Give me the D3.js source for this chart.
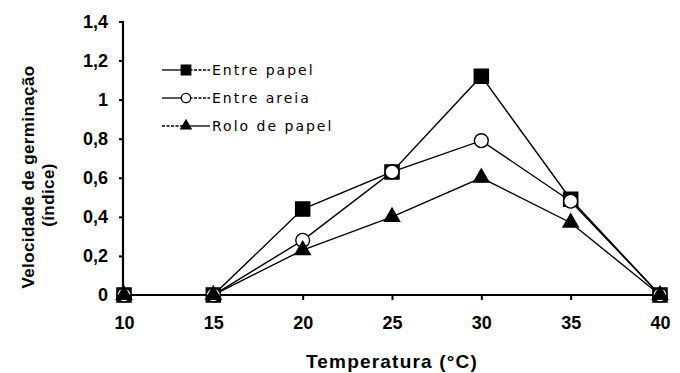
<!DOCTYPE html>
<html><head><meta charset="utf-8">
<script src="https://cdn.jsdelivr.net/npm/d3@7"></script>
<style>body{margin:0;background:#fff}svg{display:block}</style>
</head><body>
<svg id="c" width="680" height="373"></svg>
<script>
const temps = [10, 15, 20, 25, 30, 35, 40];
const entrePapel = [0, 0, 0.44, 0.63, 1.12, 0.49, 0];
const entreAreia = [0, 0, 0.28, 0.63, 0.79, 0.48, 0];
const roloPapel = [0, 0, 0.23, 0.40, 0.60, 0.37, 0];
const yTicks = [0, 0.2, 0.4, 0.6, 0.8, 1, 1.2, 1.4];
const seriesNames = ["Entre papel", "Entre areia", "Rolo de papel"];

const svg = d3.select("#c");
const x = d3.scaleLinear().domain([10, 40]).range([124, 660]);
const y = d3.scaleLinear().domain([0, 1.4]).range([295, 21.5]);
const fmt = d => String(d).replace(".", ",");

// axes
const yAx = svg.append("g").attr("transform", "translate(123,0)")
  .call(d3.axisLeft(y).tickValues(yTicks).tickFormat(fmt).tickSize(4).tickPadding(11));
const xAx = svg.append("g").attr("transform", "translate(0,295)")
  .call(d3.axisBottom(x).tickValues(temps).tickSize(5).tickPadding(16));
[yAx, xAx].forEach(g => {
  g.select(".domain").attr("stroke", "#000").attr("stroke-width", 2.2);
  g.selectAll(".tick line").attr("stroke", "#000").attr("stroke-width", 2);
  g.selectAll("text").attr("font-family", "Liberation Sans, Arial, sans-serif")
    .attr("font-weight", "bold").attr("font-size", 18).attr("fill", "#000");
});
yAx.select(".domain").attr("d", "M0,21V295");
xAx.select(".domain").attr("d", "M123,0H660");
xAx.selectAll(".tick text").attr("dy", "0.71em");

const series = [
  {name: seriesNames[0], vals: entrePapel, sym: d3.symbolSquare, size: 200, fill: "#000"},
  {name: seriesNames[1], vals: entreAreia, sym: d3.symbolCircle, size: 150, fill: "#fff"},
  {name: seriesNames[2], vals: roloPapel, sym: d3.symbolTriangle, size: 100, fill: "#000"}
];

const line = d3.line().x((d, i) => x(temps[i])).y(d => y(d));
series.forEach(s => {
  svg.append("path").attr("d", line(s.vals)).attr("fill", "none")
    .attr("stroke", "#000").attr("stroke-width", 1.4);
});
series.forEach(s => {
  svg.append("g").selectAll("path").data(s.vals).join("path")
    .attr("transform", (d, i) => `translate(${x(temps[i])},${y(d)})`)
    .attr("d", d3.symbol().type(s.sym).size(s.size))
    .attr("fill", s.fill).attr("stroke", "#000").attr("stroke-width", 1.4);
});

// legend
const legY = [70, 98, 126];
series.forEach((s, i) => {
  const g = svg.append("g").attr("transform", `translate(0,${legY[i]})`);
  const leftDash = i === 2 ? "3,1.5" : null, rightDash = i === 2 ? null : "3,1.5";
  g.append("line").attr("x1", 162).attr("x2", 185).attr("stroke", "#000")
    .attr("stroke-width", 1.3).attr("stroke-dasharray", leftDash);
  g.append("line").attr("x1", 185).attr("x2", 210).attr("stroke", "#000")
    .attr("stroke-width", 1.3).attr("stroke-dasharray", rightDash);
  g.append("path").attr("transform", "translate(186,0)")
    .attr("d", d3.symbol().type(s.sym).size(s.size * 0.45))
    .attr("fill", s.fill).attr("stroke", "#000").attr("stroke-width", 1.3);
  g.append("text").attr("x", 212).attr("dy", "0.35em").text(s.name)
    .attr("font-family", "DejaVu Sans, sans-serif").attr("font-size", 14)
    .attr("letter-spacing", 2).attr("fill", "#000");
});

// titles
const tf = "Liberation Sans, Arial, sans-serif";
svg.append("text").attr("transform", "translate(34,177) rotate(-90)")
  .attr("text-anchor", "middle").attr("font-family", tf).attr("font-weight", "bold")
  .attr("font-size", 17).attr("letter-spacing", 0.4).text("Velocidade de germinação");
svg.append("text").attr("transform", "translate(54,195) rotate(-90)")
  .attr("text-anchor", "middle").attr("font-family", tf).attr("font-weight", "bold")
  .attr("font-size", 17).attr("letter-spacing", 0.4).text("(índice)");
svg.append("text").attr("x", 392).attr("y", 368)
  .attr("text-anchor", "middle").attr("font-family", tf).attr("font-weight", "bold")
  .attr("font-size", 19).attr("letter-spacing", 1.2).text("Temperatura (°C)");
</script>
</body></html>
